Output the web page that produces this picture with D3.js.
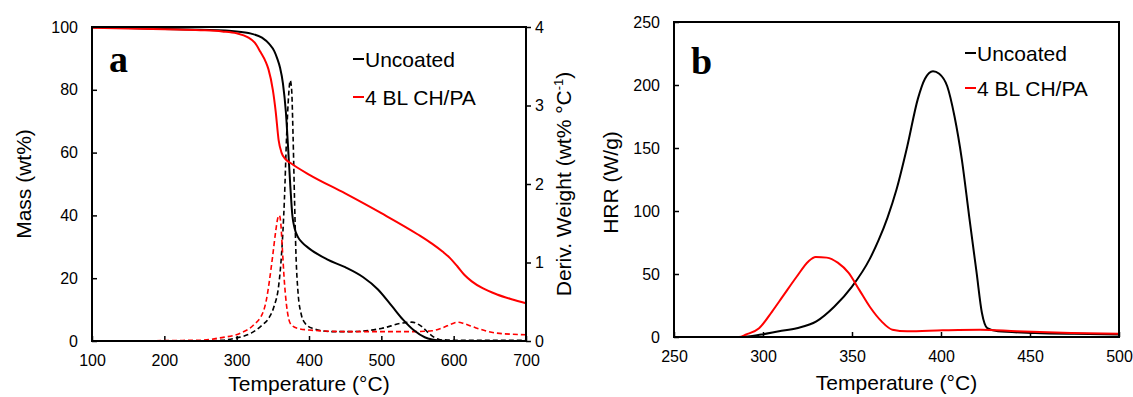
<!DOCTYPE html>
<html>
<head>
<meta charset="utf-8">
<script src="https://cdn.jsdelivr.net/npm/d3@7"></script>
<style>
  body { margin: 0; background: #fff; }
  svg { display: block; }
  text { font-family: "Liberation Sans", Arial, sans-serif; fill: #000; }
</style>
</head>
<body>
<div id="chart"></div>
<script>
// ---- panel a: TGA mass (left axis) ----
const massUncoatedT = [100, 150, 200, 250, 300, 320, 335, 345, 352, 356, 360, 364, 368, 371, 374, 377, 380, 385, 390, 400, 425, 450, 475, 495, 515, 530, 545, 560, 570, 580, 600, 700];
const massUncoated  = [100, 99.7, 99.4, 99.1, 98.6, 97.9, 96.6, 94.6, 92.3, 90, 87, 82, 73, 62, 50, 40, 36, 33, 31.5, 29.5, 26, 23.5, 20.3, 16.5, 11, 6.8, 3.4, 1.2, 0.5, 0.2, 0, 0];

const massCoatedT = [100, 200, 250, 280, 300, 315, 325, 333, 340, 344, 350, 354, 358, 362, 368, 375, 380, 400, 450, 500, 550, 570, 585, 595, 605, 615, 625, 640, 660, 680, 700];
const massCoated  = [99.8, 99.3, 99, 98.6, 98, 96.8, 95, 92, 89, 86.5, 80, 73, 64, 60, 57.8, 56.6, 55.8, 53, 47, 40.7, 34, 31, 28.4, 26.4, 23.8, 21, 19, 16.8, 14.8, 13.3, 12];

// ---- panel a: derivative weight (right axis) ----
const dtgUncoatedT = [100, 250, 280, 300, 320, 335, 345, 352, 358, 362, 366, 369, 372, 374, 376, 378, 380, 382, 385, 389, 395, 405, 430, 460, 500, 530, 542, 555, 568, 580, 600, 700];
const dtgUncoated  = [0, 0, 0.01, 0.04, 0.1, 0.2, 0.3, 0.45, 0.7, 1.1, 1.8, 2.6, 3.15, 3.32, 3.2, 2.6, 1.8, 1.1, 0.6, 0.35, 0.22, 0.16, 0.12, 0.12, 0.16, 0.23, 0.24, 0.19, 0.08, 0.02, 0.01, 0.01];

const dtgCoatedT = [100, 250, 277, 305, 323, 337, 341, 345, 350, 354, 357, 359, 361, 363, 366, 369, 372, 376, 385, 400, 450, 500, 545, 570, 585, 598, 606, 615, 630, 660, 700];
const dtgCoated  = [0, 0.01, 0.04, 0.1, 0.2, 0.38, 0.52, 0.75, 1.1, 1.4, 1.57, 1.6, 1.5, 1.2, 0.75, 0.45, 0.28, 0.2, 0.16, 0.14, 0.12, 0.12, 0.12, 0.13, 0.17, 0.22, 0.24, 0.22, 0.17, 0.1, 0.08];

// ---- panel b: heat release rate ----
const hrrUncoatedT = [250, 288, 299, 309, 319, 330, 340, 350, 360, 365, 370, 375, 381, 387, 391, 395.5, 399, 403.5, 407.6, 411.7, 415.8, 420, 423, 426, 432, 453, 475, 500];
const hrrUncoated  = [0, 0, 1.9, 4.5, 7, 12.4, 24, 40, 62, 77, 95, 117, 151, 189, 205, 211, 209, 199, 175, 141, 96, 51, 19, 7, 4.5, 3.2, 2.5, 2];

const hrrCoatedT = [250, 286.5, 290.6, 297.8, 305, 311, 319, 325.5, 329.6, 335.8, 342, 348, 354, 360, 366.6, 372.7, 381, 401, 422, 442.5, 473, 500];
const hrrCoated  = [0, 0, 2, 7, 20, 32, 48, 60, 63.5, 63, 59, 51, 37.6, 24, 12.4, 5.8, 4.5, 5.3, 5.8, 4.5, 3.2, 2.6];

const massTicks = [0, 20, 40, 60, 80, 100];
const dtgTicks = [0, 1, 2, 3, 4];
const tempTicksA = [100, 200, 300, 400, 500, 600, 700];
const tempTicksB = [250, 300, 350, 400, 450, 500];
const hrrTicks = [0, 50, 100, 150, 200, 250];

const legendLabels = ['Uncoated', '4 BL CH/PA'];
const RED = '#ff0000';

const svg = d3.select('#chart').append('svg')
  .attr('width', 1133)
  .attr('height', 397);

const zip = (xs, ys) => xs.map((x, i) => [x, ys[i]]);

function styleAxis(g) {
  g.selectAll('path.domain').remove();
  g.selectAll('line').attr('stroke', '#000').attr('stroke-width', 1.5);
  g.selectAll('text')
    .style('font-family', '"Liberation Sans", Arial, sans-serif')
    .style('font-size', '16px')
    .attr('fill', '#000');
}

function drawLegend(g, x, y0, gap) {
  legendLabels.forEach((lbl, i) => {
    const y = y0 + i * gap;
    g.append('line')
      .attr('x1', x).attr('x2', x + 11)
      .attr('y1', y).attr('y2', y)
      .attr('stroke', i === 0 ? '#000' : RED)
      .attr('stroke-width', 2);
    g.append('text')
      .attr('x', x + 12).attr('y', y + 7.5)
      .style('font-size', '21px')
      .text(lbl);
  });
}

// ================= panel a =================
const A = { left: 92, right: 526, top: 27, bottom: 341 };

const xA = d3.scaleLinear().domain([100, 700]).range([A.left, A.right]);
const yMass = d3.scaleLinear().domain([0, 100]).range([A.bottom, A.top]);
const yDtg = d3.scaleLinear().domain([0, 4]).range([A.bottom, A.top]);

const ga = svg.append('g');

ga.append('g')
  .attr('transform', `translate(0,${A.bottom})`)
  .call(d3.axisBottom(xA).tickValues(tempTicksA).tickSize(-5).tickPadding(14))
  .call(styleAxis);

ga.append('g')
  .attr('transform', `translate(${A.left},0)`)
  .call(d3.axisLeft(yMass).tickValues(massTicks).tickSize(-5).tickPadding(14))
  .call(styleAxis);

ga.append('g')
  .attr('transform', `translate(${A.right},0)`)
  .call(d3.axisRight(yDtg).tickValues(dtgTicks).tickFormat(d3.format('d')).tickSize(5).tickPadding(4))
  .call(styleAxis);

const lineMass = d3.line().x(d => xA(d[0])).y(d => yMass(d[1])).curve(d3.curveMonotoneX);
const lineDtg = d3.line().x(d => xA(d[0])).y(d => yDtg(d[1])).curve(d3.curveMonotoneX);

ga.append('path').datum(zip(dtgUncoatedT, dtgUncoated))
  .attr('d', lineDtg).attr('fill', 'none')
  .attr('stroke', '#000').attr('stroke-width', 1.6).attr('stroke-dasharray', '5,3');
ga.append('path').datum(zip(dtgCoatedT, dtgCoated))
  .attr('d', lineDtg).attr('fill', 'none')
  .attr('stroke', RED).attr('stroke-width', 1.6).attr('stroke-dasharray', '5,3');
ga.append('path').datum(zip(massUncoatedT, massUncoated))
  .attr('d', lineMass).attr('fill', 'none')
  .attr('stroke', '#000').attr('stroke-width', 2);
ga.append('path').datum(zip(massCoatedT, massCoated))
  .attr('d', lineMass).attr('fill', 'none')
  .attr('stroke', RED).attr('stroke-width', 2);

ga.append('rect')
  .attr('x', A.left).attr('y', A.top)
  .attr('width', A.right - A.left).attr('height', A.bottom - A.top)
  .attr('fill', 'none').attr('stroke', '#000').attr('stroke-width', 2);

ga.append('text')
  .attr('x', 109).attr('y', 72)
  .style('font-family', '"Liberation Serif", "Times New Roman", serif')
  .style('font-weight', 'bold').style('font-size', '38px')
  .text('a');

drawLegend(ga, 353, 59, 38);

ga.append('text')
  .attr('x', (A.left + A.right) / 2).attr('y', 391)
  .attr('text-anchor', 'middle').style('font-size', '21px')
  .text('Temperature (°C)');

ga.append('text')
  .attr('transform', `translate(31,${(A.top + A.bottom) / 2}) rotate(-90)`)
  .attr('text-anchor', 'middle').style('font-size', '21px')
  .text('Mass (wt%)');

const dLabel = ga.append('text')
  .attr('transform', `translate(571,${(A.top + A.bottom) / 2}) rotate(-90)`)
  .attr('text-anchor', 'middle').style('font-size', '21px');
dLabel.append('tspan').text('Deriv. Weight (wt% °C');
dLabel.append('tspan').attr('dy', -8).style('font-size', '13px').text('-1');
dLabel.append('tspan').attr('dy', 8).text(')');

// ================= panel b =================
const B = { left: 674, right: 1119, top: 22, bottom: 337 };

const xB = d3.scaleLinear().domain([250, 500]).range([B.left, B.right]);
const yHrr = d3.scaleLinear().domain([0, 250]).range([B.bottom, B.top]);

const gb = svg.append('g');

gb.append('g')
  .attr('transform', `translate(0,${B.bottom})`)
  .call(d3.axisBottom(xB).tickValues(tempTicksB).tickSize(-5).tickPadding(14))
  .call(styleAxis);

gb.append('g')
  .attr('transform', `translate(${B.left},0)`)
  .call(d3.axisLeft(yHrr).tickValues(hrrTicks).tickSize(-5).tickPadding(14))
  .call(styleAxis);

const lineHrr = d3.line().x(d => xB(d[0])).y(d => yHrr(d[1])).curve(d3.curveMonotoneX);

gb.append('path').datum(zip(hrrUncoatedT, hrrUncoated))
  .attr('d', lineHrr).attr('fill', 'none')
  .attr('stroke', '#000').attr('stroke-width', 2);
gb.append('path').datum(zip(hrrCoatedT, hrrCoated))
  .attr('d', lineHrr).attr('fill', 'none')
  .attr('stroke', RED).attr('stroke-width', 2);

gb.append('rect')
  .attr('x', B.left).attr('y', B.top)
  .attr('width', B.right - B.left).attr('height', B.bottom - B.top)
  .attr('fill', 'none').attr('stroke', '#000').attr('stroke-width', 2);

gb.append('text')
  .attr('x', 691).attr('y', 74)
  .style('font-family', '"Liberation Serif", "Times New Roman", serif')
  .style('font-weight', 'bold').style('font-size', '38px')
  .text('b');

drawLegend(gb, 965, 53, 35);

gb.append('text')
  .attr('x', (B.left + B.right) / 2).attr('y', 390)
  .attr('text-anchor', 'middle').style('font-size', '21px')
  .text('Temperature (°C)');

gb.append('text')
  .attr('transform', `translate(618,${(B.top + B.bottom) / 2 + 3}) rotate(-90)`)
  .attr('text-anchor', 'middle').style('font-size', '21px')
  .text('HRR (W/g)');
</script>
</body>
</html>
